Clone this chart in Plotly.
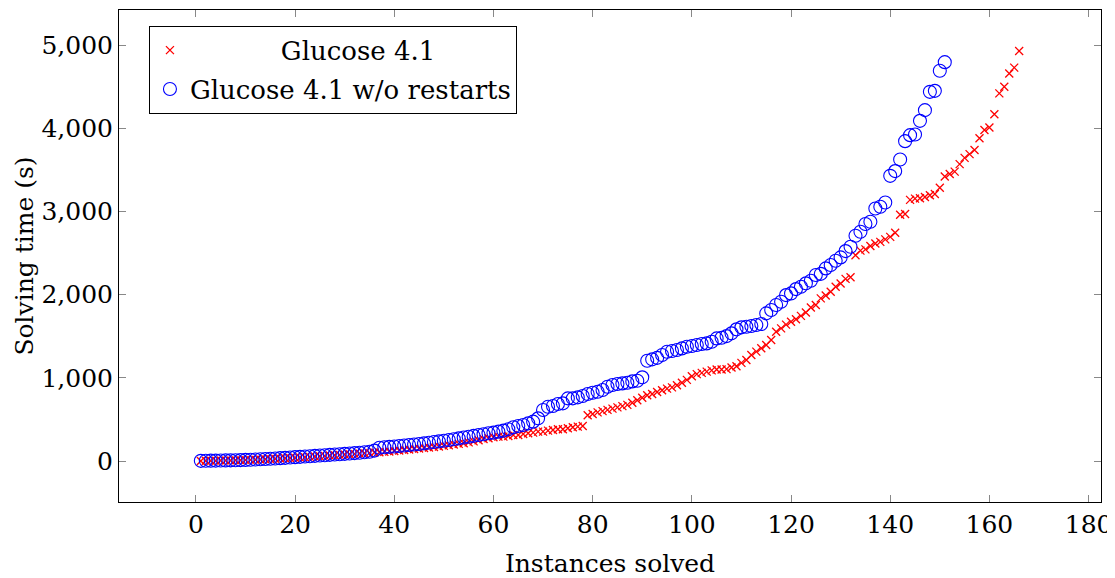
import plotly.graph_objects as go

# ---- data ----
glucose_y = [
    1, 2, 3, 4, 5, 6, 7, 8, 10, 12,
    14, 16, 19, 22, 25, 28, 31, 34, 37, 40,
    43, 46, 50, 54, 58, 62, 66, 70, 74, 78,
    82, 86, 90, 94, 98, 102, 106, 110, 115, 120,
    126, 132, 138, 144, 150, 156, 162, 168, 175, 182,
    190, 198, 206, 214, 224, 236, 250,
    265, 273, 285, 293, 293, 300, 313, 313, 325, 333,
    341, 353, 353, 365, 373, 381, 381, 393, 405, 413, 421,
    550, 565, 585, 600, 615, 630, 645, 660, 675, 700,
    730, 760, 790, 805, 830, 850, 870, 885, 910, 940,
    975, 1020, 1045, 1060, 1075, 1090, 1100, 1100, 1105, 1125,
    1140, 1180, 1215, 1275, 1315, 1355, 1395, 1455, 1555, 1595,
    1640, 1675, 1705, 1745, 1785, 1845, 1875, 1955, 1990, 2035,
    2095, 2135, 2190, 2210, 2475, 2530, 2545, 2585, 2615, 2635,
    2665, 2695, 2745, 2960, 2970, 3140, 3155, 3160, 3175, 3195,
    3210, 3285, 3420, 3450, 3480, 3570, 3645, 3690, 3740, 3880,
    3980, 4010, 4170, 4420, 4500, 4660, 4730, 4930,
]

norestart_y = [
    2, 3, 4, 5, 6, 7, 8, 9, 11, 13,
    15, 18, 21, 24, 27, 30, 34, 38, 42, 46,
    50, 54, 58, 62, 66, 70, 74, 78, 82, 86,
    90, 95, 100, 105, 112, 125, 160, 165, 170, 175,
    180, 186, 192, 198, 204, 212, 220, 228, 236, 244,
    252, 262, 272, 282, 292, 302, 312,
    321, 333, 341, 353, 365, 381, 405, 421, 433, 453,
    473, 513, 613, 653, 661, 685, 693, 753, 753, 765,
    781, 805, 821, 833, 853, 893, 913, 925, 933, 941,
    957, 965, 1006,
    1205, 1222, 1240, 1274, 1314, 1322, 1334, 1354, 1374, 1382,
    1394, 1406, 1414, 1434, 1474, 1482, 1502, 1535, 1583, 1607,
    1615, 1623, 1635, 1647, 1775, 1815, 1875, 1915, 1995, 2015,
    2067, 2095, 2136, 2167, 2236, 2250, 2316, 2356, 2407, 2448,
    2524, 2576, 2709, 2757, 2849, 2877, 3037, 3057, 3109, 3429,
    3486, 3626, 3846, 3918, 3926, 4090, 4219, 4439, 4451, 4692,
    4796,
]

glucose_x = list(range(1, len(glucose_y) + 1))
norestart_x = list(range(1, len(norestart_y) + 1))

x_ticks = [0, 20, 40, 60, 80, 100, 120, 140, 160, 180]
y_ticks = [0, 1000, 2000, 3000, 4000, 5000]

FONT = "DejaVu Serif"
FS = 25
LFS = 26
NB = "\u00a0"

fig = go.Figure()
fig.add_trace(go.Scatter(
    x=glucose_x, y=glucose_y, mode="markers",
    name=NB * 11 + "Glucose 4.1",
    legendgroup="a",
    marker=dict(symbol="x-thin-open", size=8, color="red",
                line=dict(color="red", width=1.3)),
))
fig.add_trace(go.Scatter(
    x=norestart_x, y=norestart_y, mode="markers",
    name="Glucose 4.1 w/o restarts",
    legendgroup="b",
    marker=dict(symbol="circle-open", size=13, color="blue",
                line=dict(color="blue", width=1.1)),
))

axis_common = dict(
    showgrid=False, zeroline=False, showline=True, linecolor="black",
    linewidth=1, mirror="ticks", ticks="inside", ticklen=7,
    tickcolor="#888888", tickwidth=1, automargin=False,
    tickfont=dict(family=FONT, size=FS, color="black"),
)

# the page body has an 8px margin, so the figure is sized/offset to compensate
fig.update_layout(
    width=1107, height=570,
    margin=dict(l=111, r=14, t=2, b=76),
    paper_bgcolor="white", plot_bgcolor="white",
    font=dict(family=FONT, size=FS, color="black"),
    showlegend=True,
    legend=dict(
        x=0.0305, y=0.968, xanchor="left", yanchor="top",
        bgcolor="white", bordercolor="black", borderwidth=1,
        font=dict(family=FONT, size=LFS, color="black"),
        traceorder="grouped", tracegroupgap=2,
        itemwidth=30,
    ),
    xaxis=dict(
        range=[-15.5, 182.5], tickvals=x_ticks,
        title=dict(text="Instances solved", font=dict(family=FONT, size=FS), standoff=18),
        **axis_common,
    ),
    yaxis=dict(
        range=[-493, 5423], tickvals=y_ticks, tickformat=",",
        title=dict(text="Solving time (s)", font=dict(family=FONT, size=FS), standoff=0),
        **axis_common,
    ),
)

fig.write_html("out.html")
